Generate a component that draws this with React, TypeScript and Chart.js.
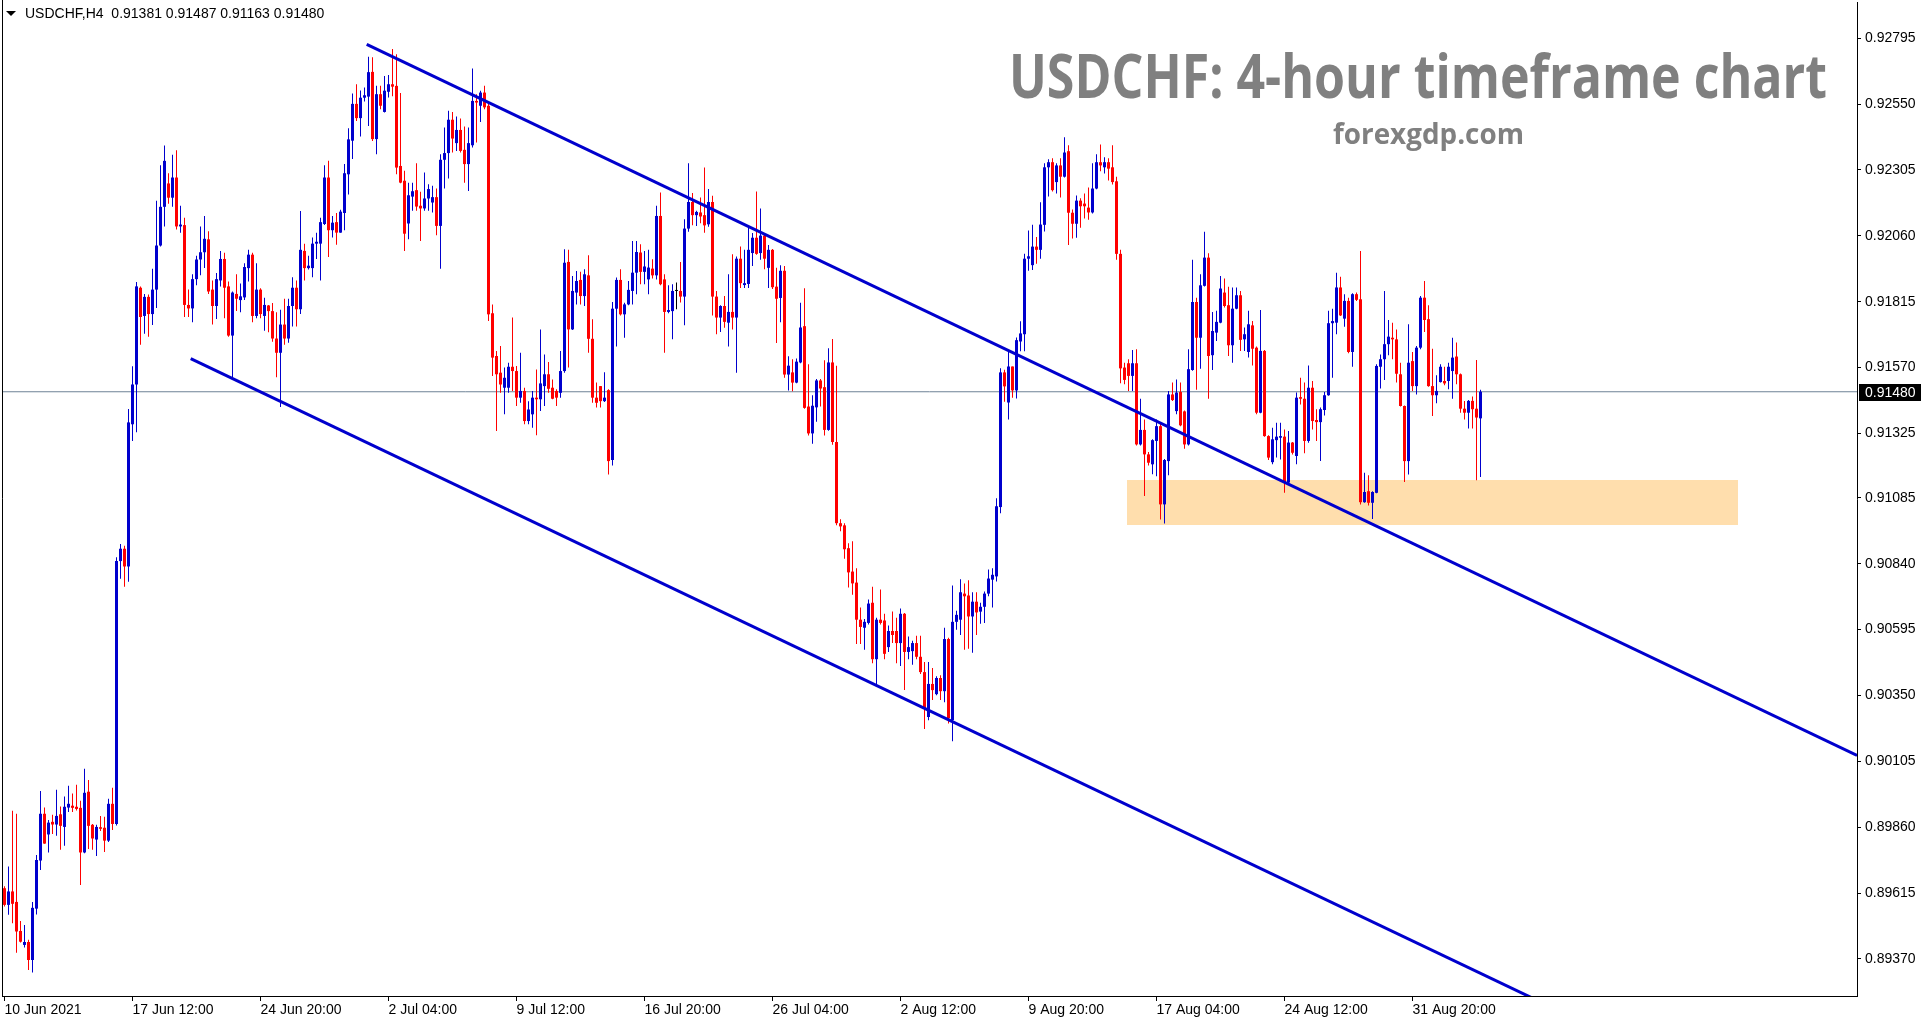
import React, { useEffect, useRef } from 'react';
import { Chart, registerables } from 'chart.js';

Chart.register(...registerables);

const symbolName = 'USDCHF,H4';
const titleText = 'USDCHF: 4-hour timeframe chart';
const siteText = 'forexgdp.com';

const opens = [
  0.89633,0.89571,0.89621,0.89582,0.89474,0.89422,0.89433,0.89366,0.89557,0.89736,
  0.89910,0.89833,0.89880,0.89870,0.89908,0.89861,0.89933,0.89940,0.89936,0.89932,
  0.89766,0.89992,0.89869,0.89814,0.89860,0.89858,0.89810,0.89947,0.89872,0.90850,
  0.90896,0.90830,0.91359,0.91507,0.91867,0.91762,0.91833,0.91769,0.91860,0.92024,
  0.92168,0.92255,0.92202,0.92277,0.92095,0.92100,0.91803,0.91790,0.91899,0.91972,
  0.91999,0.92047,0.91860,0.91799,0.91894,0.91974,0.91872,0.91689,0.91844,0.91821,
  0.91831,0.91940,0.91990,0.91762,0.91860,0.91762,0.91801,0.91780,0.91678,0.91625,
  0.91730,0.91678,0.91799,0.91867,0.91787,0.92004,0.91940,0.91940,0.92031,0.92031,
  0.92104,0.92277,0.92081,0.92111,0.92072,0.92145,0.92289,0.92414,0.92551,0.92498,
  0.92574,0.92578,0.92670,0.92420,0.92587,0.92521,0.92596,0.92624,0.92618,0.92320,
  0.92265,0.92106,0.92206,0.92230,0.92172,0.92162,0.92199,0.92184,0.92204,0.92097,
  0.92343,0.92368,0.92492,0.92405,0.92454,0.92380,0.92327,0.92397,0.92562,0.92544,
  0.92593,0.92544,0.91772,0.91613,0.91551,0.91495,0.91495,0.91573,0.91557,0.91458,
  0.91483,0.91371,0.91396,0.91458,0.91452,0.91501,0.91545,0.91495,0.91483,0.91476,
  0.91557,0.91963,0.91712,0.91849,0.91896,0.91836,0.91913,0.91677,0.91458,0.91501,
  0.91445,0.91486,0.91226,0.91789,0.91896,0.91768,0.91805,0.91855,0.91923,0.91998,
  0.91926,0.91898,0.91938,0.91913,0.92134,0.91898,0.91777,0.91780,0.91855,0.91855,
  0.91834,0.92087,0.92186,0.92137,0.92147,0.92137,0.92103,0.92186,0.91834,0.91756,
  0.91799,0.91737,0.91777,0.91756,0.91975,0.91877,0.91881,0.91996,0.92053,0.91996,
  0.92061,0.91941,0.92008,0.91871,0.91829,0.91930,0.91544,0.91552,0.91514,0.91589,
  0.91724,0.91425,0.91325,0.91422,0.91522,0.91497,0.91338,0.91589,0.91293,0.90991,
  0.90983,0.90898,0.90811,0.90770,0.90632,0.90602,0.90620,0.90695,0.90485,0.90632,
  0.90629,0.90530,0.90590,0.90590,0.90545,0.90654,0.90512,0.90515,0.90545,0.90494,
  0.90437,0.90270,0.90393,0.90355,0.90415,0.90366,0.90560,0.90258,0.90624,0.90632,
  0.90729,0.90722,0.90644,0.90699,0.90662,0.90680,0.90729,0.90781,0.90793,0.91051,
  0.91552,0.91440,0.91574,0.91485,0.91667,0.91694,0.91975,0.91951,0.92020,0.92008,
  0.92101,0.92315,0.92334,0.92260,0.92322,0.92280,0.92375,0.92146,0.92105,0.92191,
  0.92180,0.92165,0.92147,0.92236,0.92334,0.92315,0.92334,0.92315,0.92263,0.91993,
  0.91570,0.91586,0.91539,0.91586,0.91284,0.91338,0.91247,0.91210,0.91297,0.91352,
  0.91061,0.91222,0.91470,0.91408,0.91479,0.91407,0.91284,0.91561,0.91814,0.91681,
  0.91874,0.91979,0.91616,0.91700,0.91737,0.91849,0.91802,0.91653,0.91789,0.91839,
  0.91675,0.91628,0.91727,0.91644,0.91402,0.91632,0.91315,0.91218,0.91300,0.91309,
  0.91313,0.91142,0.91291,0.91241,0.91460,0.91454,0.91297,0.91495,0.91375,0.91367,
  0.91412,0.91467,0.91735,0.91737,0.91868,0.91752,0.91818,0.91628,0.91843,0.91824,
  0.91069,0.91110,0.91067,0.91104,0.91573,0.91601,0.91657,0.91681,0.91675,0.91545,
  0.91427,0.91222,0.91594,0.91501,0.91644,0.91830,0.91750,0.91501,0.91467,0.91516,
  0.91520,0.91520,0.91557,0.91611,0.91545,0.91417,0.91402,0.91446,0.91417,0.91381,
];

const highs = [
  0.89640,0.89714,0.89921,0.89910,0.89511,0.89496,0.89441,0.89582,0.89757,0.89995,
  0.89933,0.89887,0.89906,0.89999,0.89937,0.89974,0.90014,0.89985,0.90018,0.89958,
  0.90077,0.90036,0.89872,0.89869,0.89902,0.89899,0.89966,0.90007,0.90864,0.90914,
  0.90907,0.91416,0.91575,0.91888,0.91872,0.91844,0.91842,0.91938,0.92191,0.92323,
  0.92396,0.92293,0.92362,0.92378,0.92172,0.92127,0.91860,0.91917,0.91986,0.92095,
  0.92134,0.92077,0.91894,0.91922,0.92004,0.91997,0.91890,0.91853,0.91917,0.91883,
  0.91958,0.92008,0.91997,0.91958,0.91865,0.91830,0.91803,0.91810,0.91776,0.91785,
  0.91826,0.91826,0.91906,0.91894,0.92152,0.92031,0.91986,0.92054,0.92072,0.92127,
  0.92323,0.92339,0.92134,0.92145,0.92157,0.92327,0.92460,0.92590,0.92624,0.92601,
  0.92612,0.92726,0.92724,0.92618,0.92618,0.92655,0.92658,0.92755,0.92736,0.92591,
  0.92302,0.92258,0.92258,0.92330,0.92224,0.92296,0.92252,0.92246,0.92236,0.92364,
  0.92463,0.92525,0.92521,0.92504,0.92497,0.92467,0.92463,0.92683,0.92587,0.92600,
  0.92618,0.92562,0.91805,0.91632,0.91650,0.91570,0.91588,0.91756,0.91576,0.91625,
  0.91495,0.91445,0.91483,0.91563,0.91712,0.91619,0.91591,0.91526,0.91489,0.91632,
  0.92010,0.92008,0.91911,0.91929,0.91926,0.91936,0.91988,0.91750,0.91514,0.91501,
  0.91553,0.91489,0.91814,0.91905,0.91936,0.91811,0.91892,0.92041,0.92041,0.92029,
  0.92004,0.92008,0.91973,0.92172,0.92221,0.91917,0.91876,0.91880,0.91886,0.91963,
  0.92122,0.92330,0.92219,0.92153,0.92203,0.92314,0.92234,0.92209,0.91855,0.91802,
  0.91836,0.91917,0.91992,0.91983,0.92020,0.92008,0.92098,0.92071,0.92225,0.92162,
  0.92071,0.92026,0.92011,0.91941,0.91951,0.91948,0.91612,0.91601,0.91604,0.91811,
  0.91865,0.91582,0.91467,0.91527,0.91527,0.91597,0.91642,0.91676,0.91577,0.91006,
  0.90991,0.90916,0.90924,0.90823,0.90677,0.90635,0.90707,0.90755,0.90639,0.90744,
  0.90654,0.90610,0.90662,0.90639,0.90674,0.90657,0.90569,0.90554,0.90572,0.90572,
  0.90475,0.90475,0.90452,0.90422,0.90425,0.90602,0.90565,0.90759,0.90665,0.90782,
  0.90767,0.90779,0.90734,0.90734,0.90695,0.90737,0.90819,0.90823,0.91084,0.91567,
  0.91562,0.91631,0.91574,0.91682,0.91742,0.91993,0.92080,0.92101,0.92056,0.92185,
  0.92330,0.92345,0.92349,0.92330,0.92349,0.92427,0.92397,0.92158,0.92210,0.92200,
  0.92218,0.92240,0.92330,0.92364,0.92400,0.92352,0.92349,0.92397,0.92280,0.92008,
  0.91588,0.91601,0.91635,0.91638,0.91454,0.91377,0.91256,0.91303,0.91377,0.91365,
  0.91230,0.91483,0.91514,0.91526,0.91514,0.91410,0.91638,0.91971,0.91830,0.91917,
  0.92075,0.91995,0.91777,0.91781,0.91911,0.91901,0.91871,0.91868,0.91868,0.91855,
  0.91719,0.91781,0.91743,0.91648,0.91784,0.91635,0.91318,0.91346,0.91365,0.91365,
  0.91340,0.91334,0.91293,0.91477,0.91532,0.91514,0.91578,0.91520,0.91415,0.91421,
  0.91479,0.91781,0.91789,0.91923,0.91908,0.91843,0.91830,0.91846,0.91849,0.92004,
  0.91179,0.91169,0.91110,0.91582,0.91619,0.91855,0.91747,0.91737,0.91712,0.91588,
  0.91429,0.91731,0.91628,0.91650,0.91836,0.91892,0.91802,0.91640,0.91541,0.91582,
  0.91573,0.91588,0.91681,0.91663,0.91548,0.91446,0.91449,0.91462,0.91598,0.91487,
];

const lows = [
  0.89565,0.89534,0.89503,0.89393,0.89431,0.89412,0.89329,0.89319,0.89535,0.89701,
  0.89798,0.89766,0.89835,0.89828,0.89776,0.89791,0.89917,0.89917,0.89922,0.89645,
  0.89763,0.89779,0.89776,0.89753,0.89846,0.89768,0.89805,0.89850,0.89866,0.90784,
  0.90755,0.90773,0.91297,0.91329,0.91655,0.91696,0.91685,0.91728,0.91792,0.92020,
  0.92095,0.92179,0.92168,0.92084,0.92072,0.91758,0.91758,0.91739,0.91876,0.91913,
  0.91940,0.91844,0.91730,0.91751,0.91872,0.91753,0.91685,0.91534,0.91780,0.91776,
  0.91821,0.91890,0.91739,0.91753,0.91753,0.91707,0.91701,0.91666,0.91534,0.91423,
  0.91655,0.91662,0.91723,0.91723,0.91769,0.91894,0.91935,0.91906,0.91974,0.91894,
  0.92100,0.91981,0.92054,0.92027,0.92072,0.92081,0.92214,0.92346,0.92487,0.92430,
  0.92560,0.92469,0.92413,0.92364,0.92531,0.92519,0.92575,0.92579,0.92289,0.92256,
  0.92004,0.92047,0.92153,0.92153,0.92041,0.92153,0.92153,0.92147,0.92062,0.91938,
  0.92236,0.92273,0.92370,0.92376,0.92370,0.92258,0.92227,0.92389,0.92407,0.92484,
  0.92531,0.91743,0.91539,0.91334,0.91476,0.91396,0.91476,0.91483,0.91427,0.91439,
  0.91359,0.91359,0.91346,0.91318,0.91408,0.91427,0.91476,0.91452,0.91427,0.91458,
  0.91551,0.91570,0.91710,0.91805,0.91805,0.91799,0.91625,0.91439,0.91421,0.91421,
  0.91442,0.91172,0.91206,0.91648,0.91764,0.91681,0.91802,0.91805,0.91843,0.91880,
  0.91880,0.91843,0.91901,0.91898,0.91876,0.91625,0.91772,0.91675,0.91787,0.91812,
  0.91727,0.92075,0.92099,0.92097,0.92107,0.92072,0.92094,0.91764,0.91694,0.91702,
  0.91718,0.91648,0.91712,0.91551,0.91866,0.91866,0.91866,0.91948,0.91990,0.91971,
  0.91936,0.91866,0.91862,0.91661,0.91739,0.91532,0.91485,0.91482,0.91512,0.91586,
  0.91417,0.91317,0.91287,0.91368,0.91425,0.91317,0.91335,0.91283,0.90983,0.90961,
  0.90859,0.90752,0.90725,0.90542,0.90542,0.90520,0.90614,0.90470,0.90393,0.90614,
  0.90485,0.90512,0.90545,0.90470,0.90460,0.90370,0.90485,0.90464,0.90485,0.90430,
  0.90225,0.90258,0.90333,0.90351,0.90333,0.90325,0.90246,0.90180,0.90595,0.90575,
  0.90520,0.90524,0.90509,0.90575,0.90617,0.90620,0.90719,0.90677,0.90774,0.91028,
  0.91443,0.91377,0.91458,0.91455,0.91631,0.91631,0.91930,0.91933,0.91956,0.91975,
  0.92076,0.92206,0.92225,0.92218,0.92203,0.92277,0.92026,0.92050,0.92053,0.92090,
  0.92125,0.92120,0.92143,0.92233,0.92300,0.92292,0.92266,0.92251,0.91971,0.91512,
  0.91508,0.91483,0.91483,0.91280,0.91280,0.91092,0.91206,0.91173,0.91166,0.91005,
  0.90990,0.91169,0.91446,0.91396,0.91352,0.91268,0.91280,0.91558,0.91487,0.91566,
  0.91872,0.91454,0.91561,0.91669,0.91735,0.91793,0.91613,0.91588,0.91787,0.91632,
  0.91632,0.91607,0.91578,0.91396,0.91400,0.91313,0.91226,0.91210,0.91235,0.91228,
  0.91104,0.91135,0.91247,0.91210,0.91433,0.91251,0.91290,0.91340,0.91297,0.91222,
  0.91392,0.91465,0.91532,0.91694,0.91762,0.91722,0.91623,0.91573,0.91818,0.91061,
  0.91067,0.91057,0.91007,0.91102,0.91492,0.91524,0.91616,0.91601,0.91514,0.91425,
  0.91144,0.91172,0.91483,0.91470,0.91638,0.91702,0.91499,0.91390,0.91437,0.91514,
  0.91504,0.91489,0.91454,0.91508,0.91402,0.91377,0.91343,0.91343,0.91151,0.91163,
];

const closes = [
  0.89571,0.89621,0.89575,0.89472,0.89434,0.89433,0.89366,0.89560,0.89738,0.89910,
  0.89799,0.89877,0.89870,0.89902,0.89865,0.89936,0.89947,0.89932,0.89928,0.89766,
  0.89988,0.89865,0.89818,0.89861,0.89854,0.89810,0.89947,0.89872,0.90850,0.90896,
  0.90830,0.91366,0.91507,0.91872,0.91758,0.91833,0.91769,0.91860,0.92024,0.92168,
  0.92339,0.92202,0.92277,0.92095,0.92102,0.91803,0.91790,0.91899,0.91972,0.91999,
  0.92049,0.91853,0.91799,0.91899,0.91974,0.91867,0.91689,0.91849,0.91826,0.91835,
  0.91944,0.91990,0.91762,0.91860,0.91769,0.91803,0.91780,0.91678,0.91625,0.91730,
  0.91678,0.91799,0.91867,0.91787,0.92008,0.91940,0.91949,0.92031,0.92038,0.92111,
  0.92277,0.92081,0.92109,0.92072,0.92150,0.92293,0.92419,0.92551,0.92498,0.92574,
  0.92583,0.92669,0.92420,0.92587,0.92544,0.92600,0.92624,0.92615,0.92314,0.92258,
  0.92068,0.92211,0.92226,0.92169,0.92162,0.92199,0.92234,0.92204,0.92097,0.92343,
  0.92368,0.92492,0.92422,0.92454,0.92376,0.92327,0.92405,0.92562,0.92556,0.92593,
  0.92538,0.91768,0.91607,0.91545,0.91507,0.91532,0.91573,0.91557,0.91458,0.91483,
  0.91371,0.91414,0.91458,0.91452,0.91511,0.91545,0.91491,0.91454,0.91458,0.91557,
  0.91960,0.91712,0.91855,0.91892,0.91836,0.91917,0.91677,0.91458,0.91439,0.91445,
  0.91458,0.91222,0.91789,0.91896,0.91768,0.91805,0.91859,0.91923,0.92000,0.91926,
  0.91946,0.91942,0.91913,0.92134,0.91880,0.91777,0.91784,0.91855,0.91855,0.91834,
  0.92087,0.92186,0.92137,0.92149,0.92132,0.92099,0.92186,0.91834,0.91756,0.91799,
  0.91740,0.91777,0.91756,0.91975,0.91884,0.91884,0.92008,0.92053,0.91993,0.92061,
  0.91975,0.92008,0.91869,0.91826,0.91930,0.91544,0.91577,0.91514,0.91592,0.91719,
  0.91420,0.91325,0.91428,0.91522,0.91492,0.91338,0.91589,0.91293,0.90991,0.90979,
  0.90894,0.90808,0.90767,0.90632,0.90605,0.90624,0.90692,0.90485,0.90632,0.90620,
  0.90505,0.90590,0.90575,0.90545,0.90654,0.90512,0.90530,0.90545,0.90494,0.90437,
  0.90303,0.90393,0.90370,0.90415,0.90366,0.90560,0.90265,0.90624,0.90650,0.90734,
  0.90719,0.90644,0.90699,0.90659,0.90680,0.90729,0.90785,0.90799,0.91054,0.91552,
  0.91500,0.91574,0.91485,0.91672,0.91697,0.91975,0.91984,0.92020,0.92008,0.92102,
  0.92315,0.92334,0.92230,0.92322,0.92280,0.92370,0.92146,0.92105,0.92191,0.92170,
  0.92170,0.92147,0.92236,0.92334,0.92322,0.92334,0.92310,0.92260,0.91993,0.91567,
  0.91524,0.91539,0.91586,0.91284,0.91338,0.91247,0.91216,0.91300,0.91352,0.91061,
  0.91226,0.91470,0.91449,0.91477,0.91355,0.91284,0.91564,0.91814,0.91681,0.91876,
  0.91979,0.91613,0.91706,0.91740,0.91864,0.91799,0.91653,0.91789,0.91839,0.91673,
  0.91694,0.91731,0.91640,0.91402,0.91632,0.91315,0.91235,0.91303,0.91313,0.91315,
  0.91142,0.91291,0.91253,0.91458,0.91454,0.91297,0.91495,0.91371,0.91367,0.91415,
  0.91467,0.91735,0.91743,0.91868,0.91764,0.91818,0.91628,0.91843,0.91822,0.91069,
  0.91107,0.91067,0.91107,0.91576,0.91601,0.91657,0.91685,0.91675,0.91547,0.91427,
  0.91222,0.91588,0.91501,0.91644,0.91830,0.91747,0.91501,0.91467,0.91483,0.91573,
  0.91511,0.91573,0.91607,0.91545,0.91417,0.91402,0.91446,0.91415,0.91384,0.91480,
];

const xTickBars = [0, 32, 64, 96, 128, 160, 192, 224, 256, 288, 320, 352];
const xTickLabels = [
  '10 Jun 2021', '17 Jun 12:00', '24 Jun 20:00', '2 Jul 04:00', '9 Jul 12:00', '16 Jul 20:00',
  '26 Jul 04:00', '2 Aug 12:00', '9 Aug 20:00', '17 Aug 04:00', '24 Aug 12:00', '31 Aug 20:00',
];
const yTicks = [
  0.92795, 0.92550, 0.92305, 0.92060, 0.91815, 0.91570, 0.91325, 0.91085,
  0.90840, 0.90595, 0.90350, 0.90105, 0.89860, 0.89615, 0.89370,
];

const upperTrend = [{ x: 90.55, y: 0.92772 }, { x: 463.125, y: 0.90127 }];
const lowerTrend = [{ x: 46.55, y: 0.91603 }, { x: 384, y: 0.89210 }];
const zoneBars = [280.55, 433.4];
const zonePrices = [0.90986, 0.91153];

const X_MIN = -0.625;
const X_MAX = 463.125;
const Y_MIN = 0.89232;
const Y_MAX = 0.92930;

const UP = '#0000CD';
const DOWN = '#FF0000';
const DOJI = '#000000';
const SMALL_FONT = '"Liberation Sans", Arial, sans-serif';

export default function App() {
  const ref = useRef<HTMLCanvasElement | null>(null);

  useEffect(() => {
    const canvas = ref.current;
    if (!canvas) return;
    const n = closes.length;
    const last = n - 1;
    const lastPrice = closes[last];
    const colorOf = (i: number) =>
      closes[i] > opens[i] ? UP : closes[i] < opens[i] ? DOWN : DOJI;

    const bodies = opens.map((o, i) => ({ x: i, y: [o, closes[i]] }));
    const wicks = lows.map((l, i) => ({ x: i, y: [l, highs[i]] }));
    const bidLine = [{ x: X_MIN, y: lastPrice }, { x: X_MAX, y: lastPrice }];

    const backgroundPlugin = {
      id: 'zoneBackground',
      beforeDatasetsDraw(chart: any) {
        const { ctx, chartArea, scales } = chart;
        const xs = scales.x;
        const ys = scales.y;
        ctx.save();
        ctx.beginPath();
        ctx.rect(chartArea.left, chartArea.top, chartArea.right - chartArea.left, chartArea.bottom - chartArea.top);
        ctx.clip();
        const x0 = Math.round(xs.getPixelForValue(zoneBars[0]));
        const x1 = Math.round(xs.getPixelForValue(zoneBars[1]));
        const y0 = Math.round(ys.getPixelForValue(zonePrices[1]));
        const y1 = Math.round(ys.getPixelForValue(zonePrices[0]));
        ctx.fillStyle = '#FFDEAD';
        ctx.fillRect(x0, y0, x1 - x0, y1 - y0);
        ctx.restore();
      },
    };

    const overlayPlugin = {
      id: 'overlay',
      afterDraw(chart: any) {
        const { ctx, chartArea, scales } = chart;
        const ys = scales.y;
        ctx.save();
        ctx.strokeStyle = '#000000';
        ctx.lineWidth = 1;
        ctx.beginPath();
        ctx.moveTo(chartArea.left + 0.5, 0);
        ctx.lineTo(chartArea.left + 0.5, chartArea.bottom + 0.5);
        ctx.stroke();

        ctx.fillStyle = '#000000';
        ctx.beginPath();
        ctx.moveTo(6, 11);
        ctx.lineTo(16, 11);
        ctx.lineTo(11, 16);
        ctx.closePath();
        ctx.fill();
        ctx.font = '14px ' + SMALL_FONT;
        ctx.textBaseline = 'middle';
        ctx.textAlign = 'left';
        const header = symbolName + '  ' + [opens[last], highs[last], lows[last], closes[last]]
          .map((v) => v.toFixed(5)).join(' ');
        ctx.fillText(header, 25, 14);

        ctx.fillStyle = '#808080';
        ctx.textBaseline = 'alphabetic';
        ctx.font = 'bold 60px "Open Sans", "Noto Sans", sans-serif';
        let w = ctx.measureText(titleText).width;
        ctx.save();
        ctx.translate(1009, 98);
        ctx.scale(818 / w, 1);
        ctx.fillText(titleText, 0, 0);
        ctx.restore();

        ctx.font = 'bold 29px "Open Sans", "Noto Sans", sans-serif';
        w = ctx.measureText(siteText).width;
        ctx.save();
        ctx.translate(1333, 144);
        ctx.scale(191 / w, 1);
        ctx.fillText(siteText, 0, 0);
        ctx.restore();

        const py = Math.round(ys.getPixelForValue(lastPrice));
        ctx.fillStyle = '#000000';
        ctx.fillRect(chartArea.right + 2, py - 8, 62, 17);
        ctx.fillStyle = '#FFFFFF';
        ctx.font = '14px ' + SMALL_FONT;
        ctx.textBaseline = 'middle';
        ctx.fillText(lastPrice.toFixed(5), chartArea.right + 8, py + 1);
        ctx.restore();
      },
    };

    const chart = new Chart(canvas, {
      type: 'bar',
      data: {
        datasets: [
          {
            type: 'line',
            data: upperTrend,
            borderColor: UP,
            borderWidth: 3,
            pointRadius: 0,
            tension: 0,
            fill: false,
            clip: 0,
            order: 0,
          } as any,
          {
            type: 'line',
            data: lowerTrend,
            borderColor: UP,
            borderWidth: 3,
            pointRadius: 0,
            tension: 0,
            fill: false,
            clip: 0,
            order: 0,
          } as any,
          {
            type: 'bar',
            data: bodies,
            backgroundColor: (c: any) => colorOf(c.dataIndex),
            barThickness: 3,
            minBarLength: 1,
            grouped: false,
            borderWidth: 0,
            inflateAmount: 0,
            order: 1,
          } as any,
          {
            type: 'bar',
            data: wicks,
            backgroundColor: (c: any) => colorOf(c.dataIndex),
            barThickness: 1,
            grouped: false,
            borderWidth: 0,
            inflateAmount: 0,
            order: 2,
          } as any,
          {
            type: 'line',
            data: bidLine,
            borderColor: '#6E8296',
            borderWidth: 1,
            pointRadius: 0,
            tension: 0,
            fill: false,
            clip: 0,
            order: 3,
          } as any,
        ],
      },
      options: {
        responsive: false,
        animation: false,
        devicePixelRatio: 1,
        events: [],
        layout: { padding: { left: 2, top: 2, right: 0, bottom: 0 } },
        plugins: {
          legend: { display: false },
          tooltip: { enabled: false },
        },
        scales: {
          x: {
            type: 'linear',
            min: X_MIN,
            max: X_MAX,
            offset: false,
            grid: { display: true, drawOnChartArea: false, drawTicks: true, tickLength: 5, color: '#000000', offset: false },
            border: { display: true, color: '#000000', width: 1 },
            ticks: {
              align: 'start',
              maxRotation: 0,
              minRotation: 0,
              autoSkip: false,
              padding: 1,
              color: '#000000',
              font: { family: SMALL_FONT, size: 14 },
              callback: (_v: any, i: number) => xTickLabels[i],
            },
            afterBuildTicks: (s: any) => {
              s.ticks = xTickBars.map((v) => ({ value: v }));
            },
            afterFit: (s: any) => {
              s.height = 27;
              s.paddingLeft = 0;
              s.paddingRight = 0;
              s.paddingTop = 0;
              s.paddingBottom = 0;
            },
          },
          y: {
            type: 'linear',
            position: 'right',
            min: Y_MIN,
            max: Y_MAX,
            beginAtZero: false,
            grid: { display: true, drawOnChartArea: false, drawTicks: true, tickLength: 4, color: '#000000' },
            border: { display: true, color: '#000000', width: 1 },
            ticks: {
              padding: 4,
              color: '#000000',
              font: { family: SMALL_FONT, size: 14 },
              callback: (v: any) => Number(v).toFixed(5),
            },
            afterBuildTicks: (s: any) => {
              s.ticks = yTicks.map((v) => ({ value: v }));
            },
            afterFit: (s: any) => {
              s.width = 73;
              s.paddingLeft = 0;
              s.paddingRight = 0;
              s.paddingTop = 0;
              s.paddingBottom = 0;
            },
          },
        },
      } as any,
      plugins: [backgroundPlugin, overlayPlugin],
    });

    return () => chart.destroy();
  }, []);

  return (
    <div style={{ position: 'fixed', left: 0, top: 0, width: 1930, height: 1023, background: '#ffffff', overflow: 'hidden' }}>
      <canvas ref={ref} width={1930} height={1023} style={{ display: 'block', width: 1930, height: 1023 }} />
    </div>
  );
}
